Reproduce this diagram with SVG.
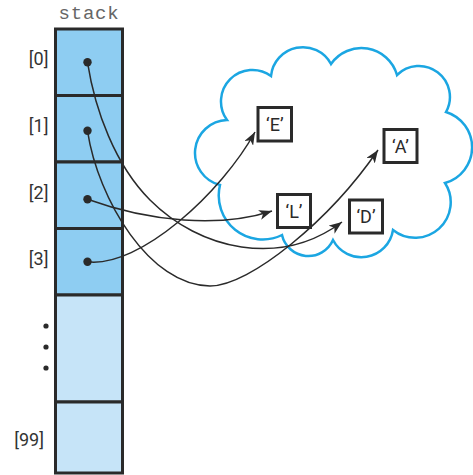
<svg xmlns="http://www.w3.org/2000/svg" width="473" height="475" viewBox="0 0 473 475">
<style>
.cell{stroke:#2a2a2a;stroke-width:3}
.top{fill:#8ecdf2}
.low{fill:#c6e4f8}
.lbl{font-family:Roboto,"Liberation Sans",sans-serif;font-size:18px;fill:#333;text-anchor:end}
.box{fill:#fff;stroke:#2a2a2a;stroke-width:3}
.bt{font-family:Roboto,"Liberation Sans",sans-serif;font-size:18px;fill:#2a2a2a;text-anchor:middle}
.dot{fill:#2a2a2a}
.conn{fill:none;stroke:#2a2a2a;stroke-width:1.5;marker-end:url(#ah)}
</style>
<defs>
<marker id="ah" markerUnits="userSpaceOnUse" markerWidth="14" markerHeight="10" viewBox="0 0 14 10" refX="13" refY="5" orient="auto">
<path d="M0,0 L13,5 L0,10 L3.5,5 Z" fill="#2a2a2a"/>
</marker>
</defs>
<rect width="473" height="475" fill="#fff"/>
<g id="cloud">
<path d="M227,120 A31.5 31.5 0 0 1 271,76 A32 32 0 0 1 331,64 A37 37 0 0 1 397,75 A31 31 0 0 1 446,112 A37 37 0 0 1 445,183 A35.5 35.5 0 0 1 393,230 A32 32 0 0 1 333,240 A27 27 0 0 1 282,235 A44 44 0 0 1 220,185 A33 33 0 0 1 227,120 Z" fill="none" stroke="#1ba6e2" stroke-width="2.5"/>
</g>
<g id="stack">
<text x="89" y="19" font-family="'Liberation Mono',monospace" font-size="19" fill="#666" text-anchor="middle" letter-spacing="0.8">stack</text>
<rect class="cell top" x="55.5" y="29" width="67" height="66.5"/>
<rect class="cell top" x="55.5" y="95.5" width="67" height="66.5"/>
<rect class="cell top" x="55.5" y="162" width="67" height="66.5"/>
<rect class="cell top" x="55.5" y="228.5" width="67" height="66.5"/>
<rect class="cell low" x="55.5" y="295" width="67" height="107"/>
<rect class="cell low" x="55.5" y="402" width="67" height="71"/>
<text class="lbl" x="48.5" y="65">[0]</text>
<text class="lbl" x="48.5" y="132">[1]</text>
<text class="lbl" x="48.5" y="198.5">[2]</text>
<text class="lbl" x="48.5" y="265">[3]</text>
<text class="lbl" x="44" y="446">[99]</text>
<circle class="dot" cx="46" cy="326" r="2.6"/>
<circle class="dot" cx="46" cy="347" r="2.6"/>
<circle class="dot" cx="46" cy="368" r="2.6"/>
<circle class="dot" cx="87.5" cy="62.3" r="4.2"/>
<circle class="dot" cx="87.5" cy="130.8" r="4.2"/>
<circle class="dot" cx="87.5" cy="199.3" r="4.2"/>
<circle class="dot" cx="87.5" cy="261.8" r="4.2"/>
</g>
<g id="nodeE"><rect class="box" x="258" y="107.5" width="33.5" height="33.5"/><text class="bt" x="274.8" y="130.8">‘E’</text></g>
<g id="nodeA"><rect class="box" x="384" y="129.5" width="33" height="33"/><text class="bt" x="400.5" y="152.8">‘A’</text></g>
<g id="nodeL"><rect class="box" x="277.5" y="194.5" width="33" height="33"/><text class="bt" x="294" y="217.8">‘L’</text></g>
<g id="nodeD"><rect class="box" x="349.5" y="200" width="33" height="33"/><text class="bt" x="366" y="223.3">‘D’</text></g>
<g id="connectors">
<path class="conn" d="M87.5,62.3 C95,110 115,165 150,200 C200,250 280,268 342,222"/>
<path class="conn" d="M87.5,130.8 C98,200 150,286 210,286 C250,286 330,220 378,150"/>
<path class="conn" d="M87.5,199.3 C150,222 220,228 272,211"/>
<path class="conn" d="M87.5,261.8 C140,268 222,192 255,132"/>
</g>
</svg>
